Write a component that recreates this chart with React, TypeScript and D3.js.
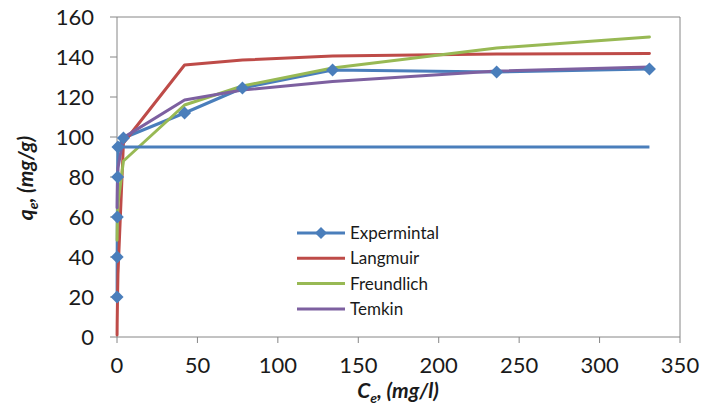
import React from "react";
import * as d3 from "d3";

const ce = [0.05, 0.1, 0.2, 0.4, 0.6, 4, 42, 78, 134, 236, 331];
const experimental = [20, 40, 60, 80, 95, 99.5, 112, 124.5, 133.5, 132.5, 134];
const langmuir = [1, 6.5, 12.5, 23, 31.5, 97, 136, 138.5, 140.5, 141.5, 141.8];
const freundlich = [48.4, 52.9, 57.8, 63.2, 66.6, 88, 116, 125.5, 134.5, 144.5, 150];
const temkin = [64.6, 70.2, 75.7, 81.3, 84.5, 99.7, 118.5, 123.5, 127.8, 133, 135];
const refLineX = [0.8, 331];
const refLineY = [95, 95];

const xTicks = [0, 50, 100, 150, 200, 250, 300, 350];
const yTicks = [0, 20, 40, 60, 80, 100, 120, 140, 160];
const seriesNames = ["Expermintal", "Langmuir", "Freundlich", "Temkin"];
const colors = ["#4A7EBB", "#BE4B48", "#98B954", "#7D60A0"];

export default function App() {
  const W = 701, H = 407;
  const left = 117, right = 680, top = 17, bottom = 337;
  const x = d3.scaleLinear().domain([0, 350]).range([left, right]);
  const y = d3.scaleLinear().domain([0, 160]).range([bottom, top]);
  const line = d3
    .line<[number, number]>()
    .x((d) => x(d[0]))
    .y((d) => y(d[1]))
    .curve(d3.curveLinear);
  const allSeries = [experimental, langmuir, freundlich, temkin];
  const pts = (vals: number[]) => ce.map((c, i) => [c, vals[i]] as [number, number]);
  const refPts = refLineX.map((c, i) => [c, refLineY[i]] as [number, number]);
  const diamond = (r: number) => `M0,${-r}L${r},0L0,${r}L${-r},0Z`;
  const font = "Lato, 'Noto Sans', sans-serif";
  const axisColor = "#868686";

  return (
    <div style={{ position: "fixed", left: 0, top: 0 }}>
      <svg width={W} height={H} style={{ display: "block", background: "#fff" }}>
        <line x1={left} x2={right} y1={top} y2={top} stroke={axisColor} strokeWidth={1} />
        <line x1={right} x2={right} y1={top} y2={bottom} stroke={axisColor} strokeWidth={1} />
        <line x1={left} x2={left} y1={top} y2={bottom} stroke={axisColor} strokeWidth={1} />
        <line x1={left} x2={right} y1={bottom} y2={bottom} stroke={axisColor} strokeWidth={1} />
        {yTicks.map((t) => (
          <g key={"y" + t}>
            <line x1={left - 7} x2={left} y1={y(t)} y2={y(t)} stroke={axisColor} />
            <text x={94} y={y(t)} dy="0.36em" textAnchor="end" fontFamily={font} fontSize={22} fill="#1a1a1a">
              {t}
            </text>
          </g>
        ))}
        {xTicks.map((t) => (
          <g key={"x" + t}>
            <line x1={x(t)} x2={x(t)} y1={bottom} y2={bottom + 6} stroke={axisColor} />
            <text x={x(t)} y={365} dy="0.36em" textAnchor="middle" fontFamily={font} fontSize={22} fill="#1a1a1a">
              {t}
            </text>
          </g>
        ))}
        <text x={398} y={398} textAnchor="middle" fontFamily={font} fontSize={21} fontWeight="bold" fontStyle="italic" fill="#1a1a1a">
          C
          <tspan fontSize={14} dy={5}>e</tspan>
          <tspan dy={-5}>, (mg/l)</tspan>
        </text>
        <text transform={`translate(33,178) rotate(-90)`} textAnchor="middle" fontFamily={font} fontSize={21} fontWeight="bold" fontStyle="italic" fill="#1a1a1a">
          q
          <tspan fontSize={14} dy={5}>e</tspan>
          <tspan dy={-5}>, (mg/g)</tspan>
        </text>

        {allSeries.map((s, i) => (
          <path
            key={"s" + i}
            d={line(pts(s)) || ""}
            fill="none"
            stroke={colors[i]}
            strokeWidth={3}
            strokeLinejoin="round"
            strokeLinecap="round"
          />
        ))}
        {pts(experimental).map((p, i) => (
          <path key={"m" + i} d={diamond(6.5)} transform={`translate(${x(p[0])},${y(p[1])})`} fill={colors[0]} />
        ))}
        <path
          d={d3.line<[number, number]>().x((d) => x(d[0])).y((d) => y(d[1]))(refPts) || ""}
          fill="none"
          stroke={colors[0]}
          strokeWidth={3}
        />

        {seriesNames.map((n, i) => {
          const ly = 233 + i * 25.3;
          return (
            <g key={"l" + i}>
              <line x1={297} x2={345} y1={ly} y2={ly} stroke={colors[i]} strokeWidth={3} />
              {i === 0 && <path d={diamond(6)} transform={`translate(321,${ly})`} fill={colors[0]} />}
              <text x={350} y={ly} dy="0.36em" fontFamily={font} fontSize={17} fill="#1a1a1a">
                {n}
              </text>
            </g>
          );
        })}
      </svg>
    </div>
  );
}
